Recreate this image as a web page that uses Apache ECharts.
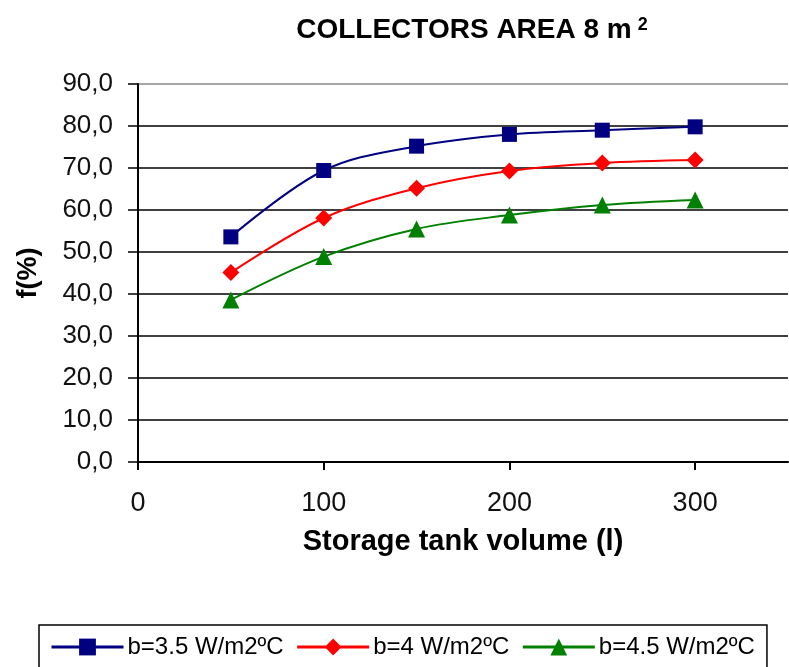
<!DOCTYPE html>
<html>
<head>
<meta charset="utf-8">
<script src="https://cdn.jsdelivr.net/npm/echarts@6/dist/echarts.min.js"></script>
<style>
  html, body { margin: 0; padding: 0; background: #fff; }
  #chart { width: 789px; height: 667px; }
</style>
</head>
<body>
<div id="chart"></div>
<script>
// storage tank volume (l)
const volumes = [50, 100, 150, 200, 250, 300]
const seriesNames = ['b=3.5 W/m2ºC', 'b=4 W/m2ºC', 'b=4.5 W/m2ºC']
// f (%)
const fB35 = [53.6, 69.4, 75.2, 78.0, 79.0, 79.8]
const fB40 = [45.1, 58.1, 65.2, 69.3, 71.2, 71.9]
const fB45 = [38.6, 48.9, 55.5, 58.8, 61.2, 62.4]
const yTicks = [0, 10, 20, 30, 40, 50, 60, 70, 80, 90]

const chart = echarts.init(document.getElementById('chart'))

const pair = vals => volumes.map((v, i) => [v, vals[i]])

const mkSeries = (name, vals, color, symbol, size) => ({
  name,
  type: 'line',
  smooth: 0.35,
  data: pair(vals),
  symbol,
  symbolSize: size,
  lineStyle: { color, width: 2 },
  itemStyle: { color },
})

const option = {
  animation: false,
  title: {
    text: '{t|COLLECTORS AREA 8 m}{s|2}',
    left: 467,
    textAlign: 'center',
    top: 11,
    textStyle: {
      rich: {
        t: { fontFamily: 'Liberation Sans', fontWeight: 'bold', fontSize: 28, color: '#000' },
        s: { fontFamily: 'Liberation Sans', fontWeight: 'bold', fontSize: 18, color: '#000', verticalAlign: 'top', padding: [0, 0, 10, 6] },
      },
    },
  },
  grid: { left: 138, right: 1, top: 84, bottom: 205 },
  legend: {
    top: 625,
    left: 39,
    padding: [10, 12, 25, 11],
    itemGap: 12,
    itemWidth: 72,
    itemHeight: 21,
    borderColor: '#000',
    borderWidth: 1.5,
    lineStyle: { width: 3 },
    textStyle: { fontFamily: 'Liberation Sans', fontSize: 24, color: '#000', padding: [0, 0, 0, -1] },
    data: seriesNames,
  },
  xAxis: {
    type: 'value',
    min: 0,
    max: 350,
    interval: 100,
    name: 'Storage tank volume (l)',
    nameLocation: 'middle',
    nameGap: 65,
    nameTextStyle: { fontFamily: 'Liberation Sans', fontWeight: 'bold', fontSize: 29, color: '#000' },
    axisLine: { lineStyle: { color: '#000', width: 2 } },
    axisTick: { length: 8, lineStyle: { color: '#000', width: 2 } },
    axisLabel: {
      fontFamily: 'Liberation Sans', fontSize: 27, color: '#111', margin: 28,
      showMaxLabel: false,
    },
    splitLine: { show: false },
  },
  yAxis: {
    type: 'value',
    min: 0,
    max: 90,
    interval: 10,
    name: 'f(%)',
    nameLocation: 'middle',
    nameGap: 96,
    nameRotate: 90,
    nameTextStyle: { fontFamily: 'Liberation Sans', fontWeight: 'bold', fontSize: 27, color: '#000' },
    axisLine: { lineStyle: { color: '#000', width: 2 } },
    axisTick: { length: 10, inside: false, lineStyle: { color: '#000', width: 1.5 } },
    axisLabel: {
      fontFamily: 'Liberation Sans', fontSize: 26, color: '#111', margin: 25,
      formatter: v => v.toFixed(1).replace('.', ','),
    },
    splitLine: {
      show: true,
      lineStyle: { color: yTicks.map(t => (t === 90 ? '#888' : '#000')), width: 1.6 },
    },
  },
  series: [
    mkSeries(seriesNames[0], fB35, '#000080', 'rect', 15),
    mkSeries(seriesNames[1], fB40, '#ff0000', 'diamond', 17),
    mkSeries(seriesNames[2], fB45, '#008000', 'triangle', 17),
  ],
}

chart.setOption(option)
</script>
</body>
</html>
